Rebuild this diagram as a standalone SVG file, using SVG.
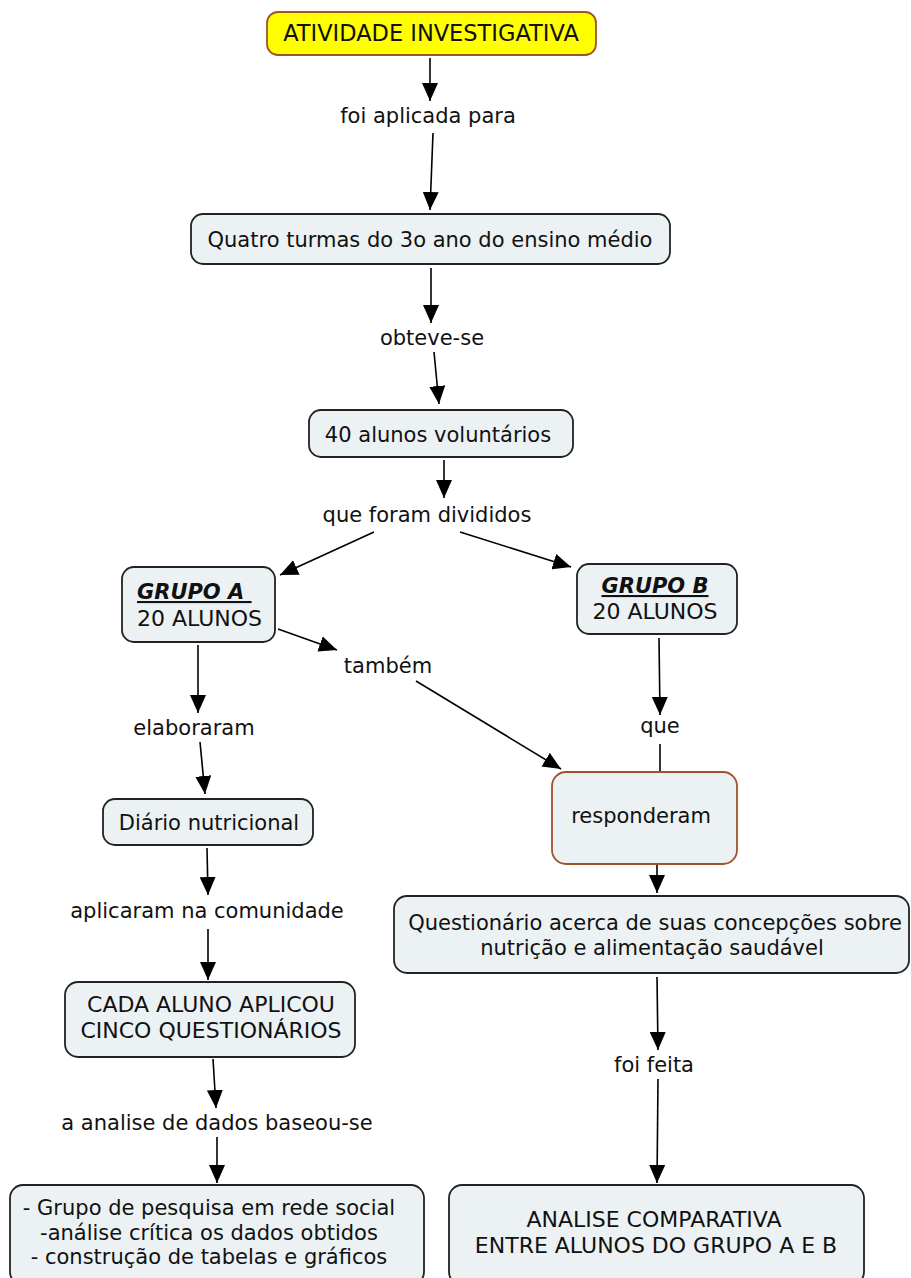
<svg xmlns="http://www.w3.org/2000/svg" width="911" height="1278" viewBox="0 0 911 1278">
<defs>
<marker id="ah" viewBox="0 0 18 16" refX="18" refY="8" markerWidth="18" markerHeight="16" markerUnits="userSpaceOnUse" orient="auto">
<path d="M0,0 L18,8 L0,16 z" fill="#000"/>
</marker>
<style>
.n rect{fill:#ecf2f4;stroke:#222;stroke-width:1.8}
text{font-family:"DejaVu Sans","Verdana",sans-serif;font-size:21px;fill:#111;text-anchor:middle}
.cap{font-size:22px}
.bi{font-weight:bold;font-style:italic;text-decoration:underline}
.c line{stroke:#000;stroke-width:1.6}
.c .a{marker-end:url(#ah)}
</style>
</defs>
<rect width="911" height="1278" fill="#fff"/>
<g class="c">
<line class="a" x1="430" y1="58" x2="430" y2="101"/>
<line class="a" x1="433" y1="133" x2="430" y2="210"/>
<line class="a" x1="431" y1="268" x2="431" y2="323"/>
<line class="a" x1="434" y1="352" x2="439" y2="404"/>
<line class="a" x1="444" y1="460" x2="444" y2="498"/>
<line class="a" x1="374" y1="532" x2="280" y2="575"/>
<line class="a" x1="460" y1="532" x2="571" y2="567"/>
<line class="a" x1="278" y1="629" x2="337" y2="650"/>
<line class="a" x1="416" y1="681" x2="561" y2="769"/>
<line class="a" x1="198" y1="645" x2="198" y2="713"/>
<line class="a" x1="200" y1="742" x2="205" y2="794"/>
<line class="a" x1="659" y1="638" x2="660" y2="715"/>
<line x1="660" y1="744" x2="660" y2="772"/>
<line class="a" x1="657" y1="865" x2="657" y2="893"/>
<line class="a" x1="207" y1="848" x2="208" y2="895"/>
<line class="a" x1="208" y1="929" x2="208" y2="980"/>
<line class="a" x1="213" y1="1059" x2="216" y2="1108"/>
<line class="a" x1="217" y1="1137" x2="217" y2="1183"/>
<line class="a" x1="657" y1="977" x2="658" y2="1050"/>
<line class="a" x1="658" y1="1079" x2="657" y2="1183"/>
</g>
<g id="labels">
<text x="428" y="123">foi aplicada para</text>
<text x="432" y="345">obteve-se</text>
<text x="427" y="522">que foram divididos</text>
<text x="388" y="673">também</text>
<text x="194" y="735">elaboraram</text>
<text x="660" y="733">que</text>
<text x="207" y="918">aplicaram na comunidade</text>
<text x="217" y="1130">a analise de dados baseou-se</text>
<text x="654" y="1072">foi feita</text>
</g>
<g id="n1"><rect x="267" y="12" width="329" height="43" rx="11" fill="#ffff00" stroke="#a0522d" stroke-width="1.8"/><text x="431" y="41" style="font-size:22.5px">ATIVIDADE INVESTIGATIVA</text></g>
<g id="n2" class="n"><rect x="191" y="214" width="479" height="50" rx="12"/><text x="430" y="247">Quatro turmas do 3o ano do ensino médio</text></g>
<g id="n3" class="n"><rect x="309" y="410" width="264" height="47" rx="12"/><text x="438" y="442">40 alunos voluntários</text></g>
<g id="nA" class="n"><rect x="122" y="567" width="153" height="75" rx="12"/><text x="137" y="599" class="bi" style="text-anchor:start" xml:space="preserve">GRUPO A </text><text x="137" y="626" class="cap" style="text-anchor:start">20 ALUNOS</text></g>
<g id="nB" class="n"><rect x="577" y="564" width="160" height="70" rx="12"/><text x="655" y="593" class="bi">GRUPO B</text><text x="655" y="619" class="cap">20 ALUNOS</text></g>
<g id="nR" class="n"><rect x="552" y="772" width="185" height="92" rx="14" style="stroke:#a0522d"/><text x="641" y="823">responderam</text></g>
<g id="nD" class="n"><rect x="103" y="799" width="210" height="46" rx="12"/><text x="209" y="830">Diário nutricional</text></g>
<g id="nQ" class="n"><rect x="394" y="896" width="515" height="77" rx="13"/><text x="655" y="930">Questionário acerca de suas concepções sobre</text><text x="652" y="955">nutrição e alimentação saudável</text></g>
<g id="nC" class="n"><rect x="65" y="982" width="290" height="75" rx="13"/><text x="211" y="1012" class="cap">CADA ALUNO APLICOU</text><text x="211" y="1038" class="cap">CINCO QUESTIONÁRIOS</text></g>
<g id="nL" class="n"><rect x="10" y="1185" width="414" height="100" rx="13"/><text x="209" y="1215">- Grupo de pesquisa em rede social</text><text x="209" y="1240">-análise crítica os dados obtidos</text><text x="209" y="1264">- construção de tabelas e gráficos</text></g>
<g id="nE" class="n"><rect x="449" y="1185" width="415" height="100" rx="13"/><text x="654" y="1227" class="cap">ANALISE COMPARATIVA</text><text x="656" y="1253" class="cap">ENTRE ALUNOS DO GRUPO A E B</text></g>
</svg>
